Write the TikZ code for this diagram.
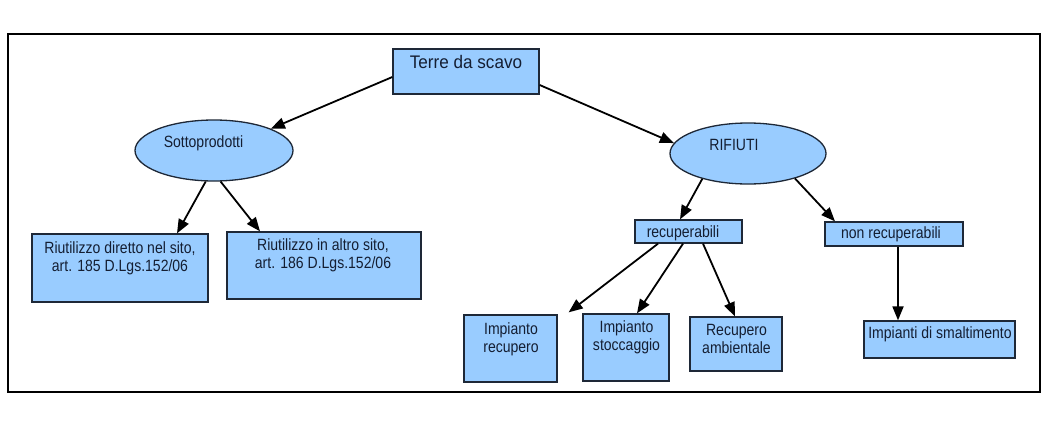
\documentclass[tikz,border=0pt]{standalone}
\usepackage{fontspec}
\newfontfamily\nf[FakeStretch=0.86]{Liberation Sans}
\newfontfamily\tf[FakeStretch=0.94]{Liberation Sans}
\usetikzlibrary{arrows.meta,shapes.geometric}
\definecolor{boxfill}{RGB}{153,204,255}
\definecolor{boxline}{RGB}{30,40,55}
\definecolor{txtcol}{RGB}{20,30,50}
\begin{document}
\begin{tikzpicture}[x=1pt,y=-1pt,
  box/.style={rectangle, draw=boxline, line width=1.3pt, fill=boxfill, inner sep=0pt},
  ell/.style={ellipse, draw=boxline, line width=1.3pt, fill=boxfill, inner sep=0pt},
  txt/.style={font=\nf\fontsize{16.3pt}{18pt}\selectfont, text=txtcol, inner sep=0pt, align=center, anchor=base},
  ttxt/.style={font=\tf\fontsize{18.2pt}{20pt}\selectfont, text=txtcol, inner sep=0pt, anchor=base},
  arr/.style={-{Triangle[length=14pt,width=11pt]}, line width=1.8pt, black}]
\useasboundingbox (0,0) rectangle (1049,436);
\fill[white] (0,0) rectangle (1049,436);
\draw[line width=2pt, black] (8,34) rectangle (1040,392);

% nodes
\node[box, minimum width=146pt, minimum height=45pt] (terre) at (466,71.5) {};
\node[ttxt] (tterre) at (466,69) {Terre da scavo};

\node[ell, minimum width=158pt, minimum height=61pt] (sotto) at (214,150.5) {};
\node[txt] (tsotto) at (203.5,147) {Sottoprodotti};

\node[ell, minimum width=156pt, minimum height=61pt] (rifiuti) at (748,153.5) {};
\node[txt] (trif) at (734,150) {RIFIUTI};

\node[box, minimum width=176pt, minimum height=68pt] (rd) at (120,268) {};
\node[txt] (trd) at (120,271) {Riutilizzo diretto nel sito,\\art. 185 D.Lgs.152/06};

\node[box, minimum width=194pt, minimum height=67pt] (ra) at (324,265.5) {};
\node[txt] (tra) at (323,268) {Riutilizzo in altro sito,\\art. 186 D.Lgs.152/06};

\node[box, minimum width=107pt, minimum height=23pt] (recup) at (688.5,231.5) {};
\node[txt] (trecup) at (683,237) {recuperabili};

\node[box, minimum width=138pt, minimum height=24pt] (nonrec) at (894,234) {};
\node[txt] (tnonrec) at (891,238.5) {non recuperabili};

\node[box, minimum width=93pt, minimum height=67pt] (ir) at (510.5,348.5) {};
\node[txt] (tir) at (511,352) {Impianto\\recupero};

\node[box, minimum width=86pt, minimum height=67pt] (is) at (626,347.5) {};
\node[txt] (tis) at (626.5,350) {Impianto\\stoccaggio};

\node[box, minimum width=92pt, minimum height=54pt] (ramb) at (736,344) {};
\node[txt] (tramb) at (736.5,353) {Recupero\\ambientale};

\node[box, minimum width=151pt, minimum height=37pt] (ims) at (939.5,339.5) {};
\node[txt] (tims) at (940,338) {Impianti di smaltimento};

% connectors
\draw[arr] ([yshift=-5.5pt]terre.west) -- (sotto.21.9);
\draw[arr] ([yshift=-13.5pt]terre.east) -- (rifiuti.172);
\draw[arr] (sotto.255) -- ([xshift=57pt]rd.north);
\draw[arr] (sotto.282) -- ([xshift=-64pt]ra.north);
\draw[arr] (rifiuti.209) -- ([xshift=-8.5pt]recup.north);
\draw[arr] (rifiuti.332) -- ([xshift=-59pt]nonrec.north);
\draw[arr] ([xshift=-30.5pt]recup.south) -- ([xshift=11pt,yshift=2pt]ir.north east);
\draw[arr] ([xshift=-5.5pt]recup.south) -- ([xshift=11pt]is.north);
\draw[arr] ([xshift=14.5pt]recup.south) -- ([xshift=-1pt]ramb.north);
\draw[arr] ([xshift=4pt]nonrec.south) -- ([xshift=-41.5pt]ims.north);
\end{tikzpicture}
\end{document}
